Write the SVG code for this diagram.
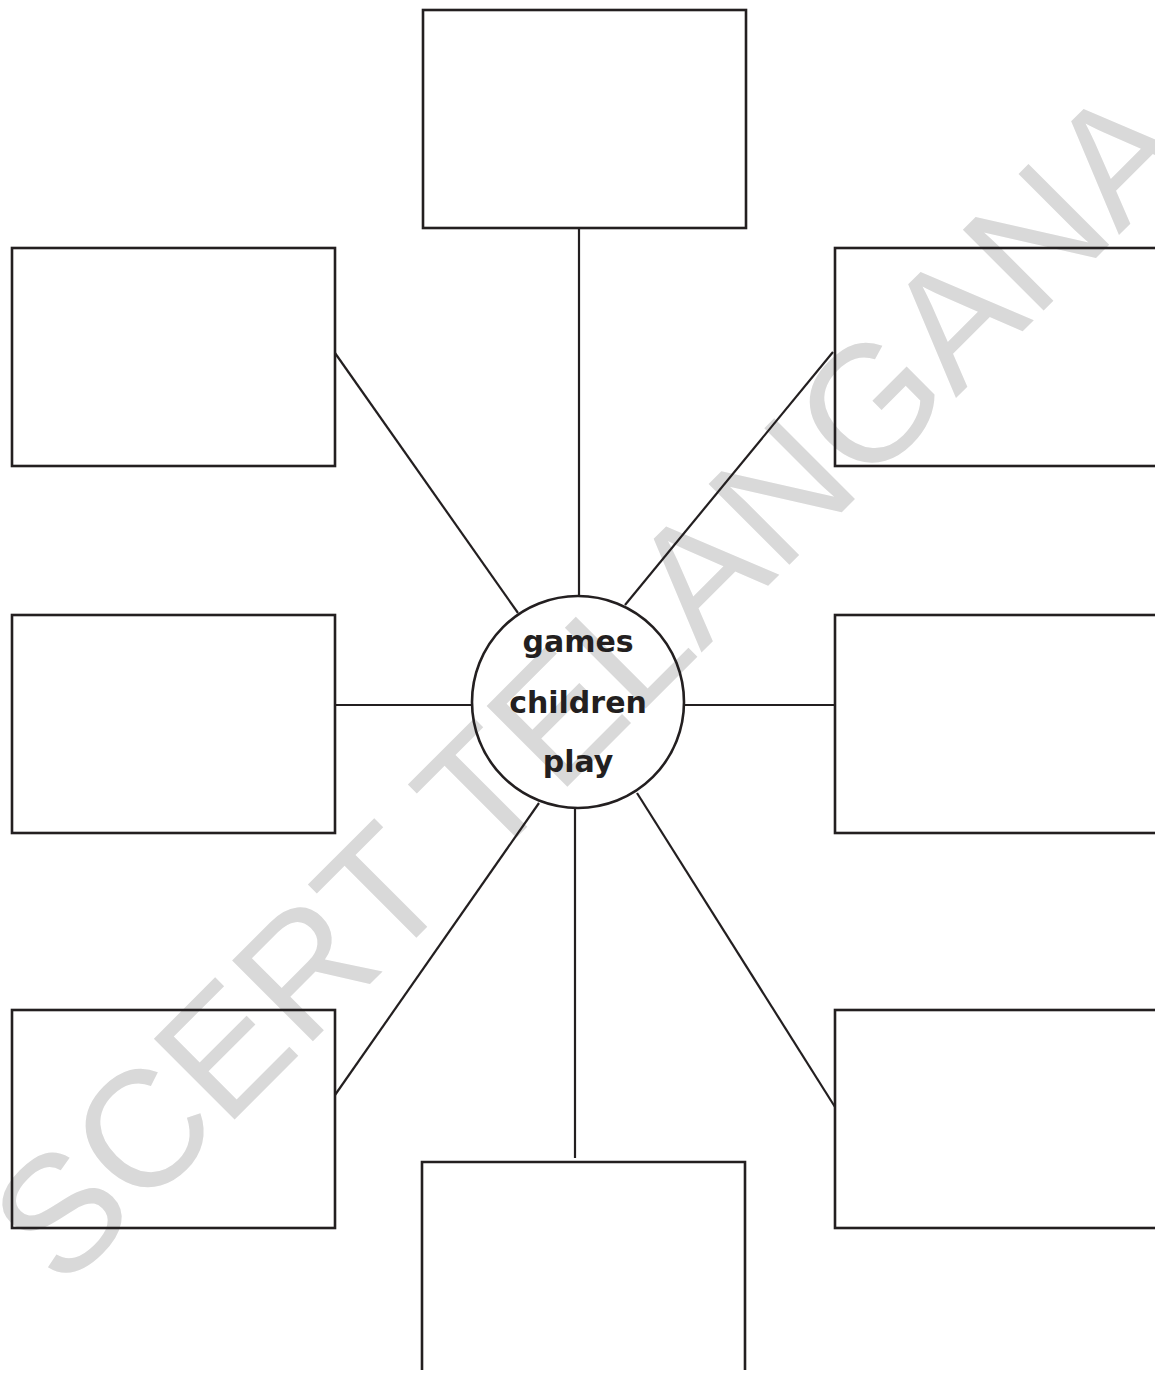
<svg xmlns="http://www.w3.org/2000/svg" width="1155" height="1377" viewBox="0 0 1155 1377">
<style>
.box{fill:none;stroke:#231f20;stroke-width:2.6}
.conn line{stroke:#231f20;stroke-width:2.2}
.hub{fill:none;stroke:#231f20;stroke-width:2.6}
.lbl{font-family:"DejaVu Sans","Liberation Sans",sans-serif;font-weight:bold;font-size:30px;fill:#231f20;text-anchor:middle}
.wm{font-family:"Liberation Sans",Arial,sans-serif;font-size:166px;fill:#d9d9d9}
</style>
<rect x="0" y="0" width="1155" height="1377" fill="#ffffff"/>
<g id="watermark">
<text class="wm" transform="translate(62,1292) rotate(-45)">SCERT TELANGANA</text>
</g>
<g id="connectors" class="conn">
<line x1="579" y1="228" x2="579" y2="596"/>
<line x1="335" y1="353" x2="518" y2="613"/>
<line x1="833" y1="352" x2="625" y2="605"/>
<line x1="335" y1="705" x2="472" y2="705"/>
<line x1="684" y1="705" x2="835" y2="705"/>
<line x1="335" y1="1095" x2="539" y2="803"/>
<line x1="575" y1="808" x2="575" y2="1158"/>
<line x1="637" y1="793" x2="835" y2="1107"/>
</g>
<g id="node-top"><rect class="box" x="423" y="10" width="323" height="218"/></g>
<g id="node-left-1"><rect class="box" x="12" y="248" width="323" height="218"/></g>
<g id="node-right-1"><rect class="box" x="835" y="248" width="330" height="218"/></g>
<g id="node-left-2"><rect class="box" x="12" y="615" width="323" height="218"/></g>
<g id="node-right-2"><rect class="box" x="835" y="615" width="330" height="218"/></g>
<g id="node-left-3"><rect class="box" x="12" y="1010" width="323" height="218"/></g>
<g id="node-right-3"><rect class="box" x="835" y="1010" width="330" height="218"/></g>
<g id="node-bottom"><path class="box" d="M422,1370 V1162 H745 V1370"/></g>
<g id="node-center">
<circle class="hub" cx="578" cy="702" r="106"/>
<text class="lbl" x="578" y="652">games</text>
<text class="lbl" x="578" y="713">children</text>
<text class="lbl" x="578" y="772">play</text>
</g>
</svg>
